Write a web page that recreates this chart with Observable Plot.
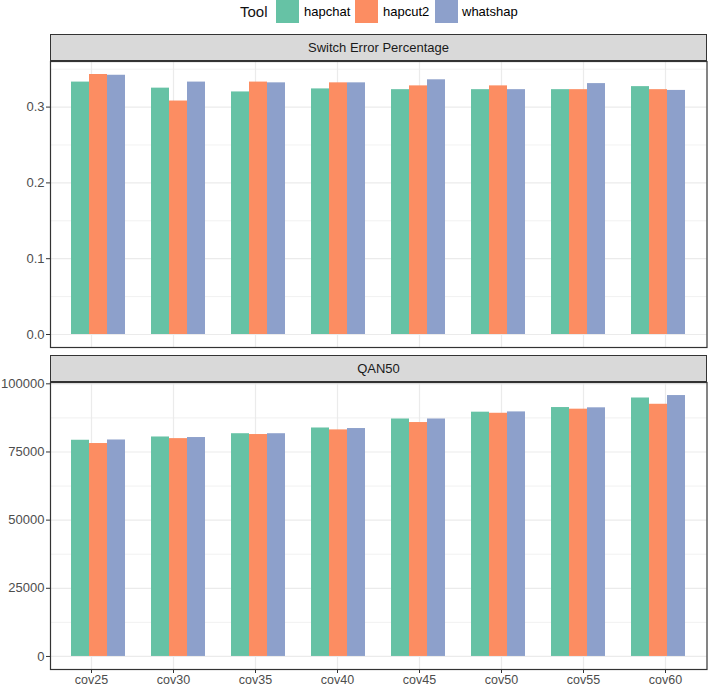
<!DOCTYPE html>
<html><head><meta charset="utf-8">
<script src="https://cdn.jsdelivr.net/npm/d3@7"></script>
<script src="https://cdn.jsdelivr.net/npm/@observablehq/plot@0.6"></script>
<style>
body{margin:0;background:#fff;font-family:"Liberation Sans",Arial,Helvetica,sans-serif;}
#root{position:relative;width:709px;height:686px;overflow:hidden;background:#fff;}
.lg{position:absolute;top:0;height:23px;line-height:23px;font-size:13px;color:#000;white-space:nowrap;font-weight:normal;}
.sw{position:absolute;top:0;width:23px;height:23px;}
.strip{position:absolute;left:50px;width:655px;height:25px;line-height:25px;background:#D9D9D9;border:1px solid #333;text-align:center;font-size:13px;color:#1A1A1A;}
.panel{position:absolute;left:0;}
.panel text{fill:#4D4D4D;}
</style>
</head><body>
<div id="root"></div>
<script>
const covs = ["cov25","cov30","cov35","cov40","cov45","cov50","cov55","cov60"];
const tools = ["hapchat","hapcut2","whatshap"];
const toolColors = ["#66C2A5","#FC8D62","#8DA0CB"];
const panelTitles = ["Switch Error Percentage","QAN50"];

const hapchatSE  = [0.333,0.325,0.320,0.324,0.323,0.323,0.323,0.327];
const hapcut2SE  = [0.343,0.308,0.333,0.332,0.328,0.328,0.323,0.323];
const whatshapSE = [0.342,0.333,0.332,0.332,0.336,0.323,0.331,0.322];

const hapchatQAN  = [79300,80500,81700,83800,87100,89600,91300,94800];
const hapcut2QAN  = [78100,79900,81400,83100,85800,89200,90700,92500];
const whatshapQAN = [79400,80300,81700,83600,87100,89700,91200,95700];

const seMajor = [0,0.1,0.2,0.3];
const seMinor = [0.05,0.15,0.25,0.35];
const qanMajor = [0,25000,50000,75000,100000];
const qanMinor = [12500,37500,62500,87500];

function toRows(series){
  const rows = [];
  covs.forEach((c,i)=>tools.forEach((t,j)=>rows.push({cov:c, tool:t, value:series[j][i]})));
  return rows;
}
const seData = toRows([hapchatSE,hapcut2SE,whatshapSE]);
const qanData = toRows([hapchatQAN,hapcut2QAN,whatshapQAN]);

const root = document.getElementById("root");

// legend
const colorScale = Plot.scale({color:{domain:tools, range:toolColors}});
function addEl(cls, left, text, bg){
  const d = document.createElement("div");
  d.className = cls; d.style.left = left + "px";
  if (text) d.textContent = text;
  if (bg) d.style.background = bg;
  root.appendChild(d); return d;
}
const tt = addEl("lg", 240, "Tool"); tt.style.fontSize = "15px"; tt.style.color = "#111";
const swLeft = [276,355,435], txLeft = [304,383,462];
tools.forEach((t,i)=>{ addEl("sw", swLeft[i], null, colorScale.apply(t)); addEl("lg", txLeft[i], t); });

// strips
const s1 = addEl("strip", 50, panelTitles[0]); s1.style.top = "34px";
const s2 = addEl("strip", 50, panelTitles[1]); s2.style.top = "355px";

const common = {
  width:709, marginTop:1, marginLeft:50, marginRight:2.5,
  style:{fontFamily:'"Liberation Sans",Arial,Helvetica,sans-serif', fontSize:"13px", color:"#333", background:"transparent", overflow:"visible"}
};
const pad = {paddingInner:0.3, paddingOuter:0.25};

function panel(data, major, minor, fmt, showX, height, marginBottom, top){
  const ymax = d3.max(data, d=>d.value);
  const yDomain = [-0.05*ymax, 1.05*ymax];
  // background: grid, axes, frame
  const bgMarks = [
    Plot.ruleY(minor, {stroke:"#EBEBEB", strokeWidth:0.7}),
    Plot.ruleY(major, {stroke:"#EBEBEB", strokeWidth:1.2}),
    Plot.gridX({stroke:"#EBEBEB", strokeOpacity:1, strokeWidth:1.2}),
    Plot.axisY({ticks:major, tickFormat:fmt, tickSize:4, tickPadding:2, label:null}),
    Plot.frame({stroke:"#333", strokeWidth:1.2})
  ];
  if (showX) bgMarks.push(Plot.axisX({anchor:"bottom", tickSize:4, tickPadding:1.5, fontSize:12.5, label:null}));
  const bg = Plot.plot({
    ...common, height, marginBottom,
    x:{domain:covs, ...pad, axis:null, label:null},
    y:{domain:yDomain, axis:null},
    marks: bgMarks
  });
  // foreground: dodged bars via fx facets
  const fg = Plot.plot({
    ...common, height, marginBottom,
    fx:{domain:covs, ...pad, axis:null, label:null},
    x:{domain:tools, padding:0, axis:null},
    y:{domain:yDomain, axis:null},
    color:{domain:tools, range:toolColors},
    marks:[ Plot.barY(data, {fx:"cov", x:"tool", y:"value", fill:"tool"}) ]
  });
  for (const svg of [bg, fg]) {
    svg.classList.add("panel");
    svg.style.position = "absolute";
    svg.style.top = top + "px";
    root.appendChild(svg);
  }
}

panel(seData, seMajor, seMinor, d3.format(".1f"), false, 288, 1, 60);
panel(qanData, qanMajor, qanMinor, d3.format("d"), true, 305, 17, 381);
</script>
</body></html>
